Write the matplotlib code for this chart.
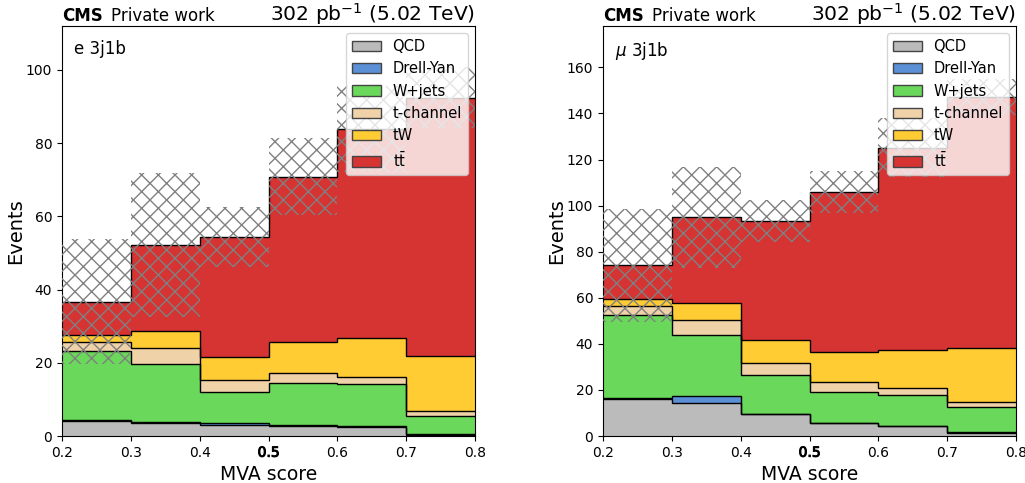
import numpy as np
import matplotlib
matplotlib.use("Agg")
import matplotlib.pyplot as plt
import matplotlib.patheffects as pe
from matplotlib.patches import Patch

edges = [0.2, 0.3, 0.4, 0.5, 0.6, 0.7, 0.8]
labels = ["QCD", "Drell-Yan", "W+jets", "t-channel", "tW", r"t$\bar{\mathrm{t}}$"]
colors = ["#bbbbbb", "#5b8fd6", "#6ad85a", "#f0d2a8", "#ffcc33", "#d63333"]
xticks = [0.2, 0.3, 0.4, 0.5, 0.6, 0.7, 0.8]

# electron channel
e_qcd = [4.2, 3.6, 3.0, 2.7, 2.5, 0.3]
e_dy = [0.2, 0.3, 0.5, 0.4, 0.3, 0.3]
e_wjets = [18.8, 15.9, 8.4, 11.5, 11.3, 4.9]
e_tchan = [2.4, 4.1, 3.4, 2.7, 2.1, 1.4]
e_tw = [2.0, 4.85, 6.4, 8.5, 10.6, 15.0]
e_ttbar = [9.1, 23.35, 32.7, 45.0, 57.0, 70.5]
e_unc = [17.0, 19.6, 8.2, 10.5, 11.7, 8.4]

# muon channel
m_qcd = [16.1, 14.5, 9.5, 5.5, 4.2, 1.4]
m_dy = [0.2, 2.9, 0.2, 0.2, 0.2, 0.4]
m_wjets = [36.2, 26.6, 16.6, 13.4, 13.2, 10.6]
m_tchan = [3.9, 6.3, 5.2, 4.3, 3.2, 2.4]
m_tw = [2.9, 7.6, 10.0, 13.1, 16.4, 23.2]
m_ttbar = [14.8, 37.1, 51.7, 69.4, 87.9, 109.0]
m_unc = [24.4, 21.9, 9.2, 9.3, 12.8, 7.8]

channels = [
    ("e 3j1b", [e_qcd, e_dy, e_wjets, e_tchan, e_tw, e_ttbar], e_unc, 112),
    (r"$\mu$ 3j1b", [m_qcd, m_dy, m_wjets, m_tchan, m_tw, m_ttbar], m_unc, 178),
]

fig = plt.figure(figsize=(10.25, 4.83), dpi=100)
axes = [fig.add_axes([0.0605, 0.0973, 0.403, 0.849]),
        fig.add_axes([0.5883, 0.0973, 0.403, 0.849])]

for ax, (chan, comps, unc, ytop) in zip(axes, channels):
    base = np.zeros(len(edges) - 1)
    for vals, col, lab in zip(comps, colors, labels):
        vals = np.asarray(vals, dtype=float)
        ax.stairs(base + vals, edges, baseline=base, fill=True,
                  facecolor=col, edgecolor="none", zorder=2)
        ax.stairs(base + vals, edges, baseline=None, color="black",
                  lw=1.0, zorder=3)
        base = base + vals
    unc = np.asarray(unc, dtype=float)
    ax.stairs(base + unc, edges, baseline=base - unc, fill=True,
              facecolor="none", edgecolor="gray", hatch="xx", lw=0, zorder=4)
    ax.set_xlim(0.2, 0.8)
    ax.set_ylim(0, ytop)
    ax.set_xticks(xticks)
    ax.set_xticklabels([f"{t:.1f}" for t in xticks])
    for t in ax.get_xticklabels():
        if t.get_text() == "0.5":
            t.set_path_effects([pe.withStroke(linewidth=0.7, foreground="black")])
    ax.tick_params(labelsize=10)
    ax.set_xlabel("MVA score", fontsize=13.5)
    ax.set_ylabel("Events", fontsize=14)
    ax.yaxis.set_label_coords(-0.09, 0.5)
    ax.text(0.03, 0.965, chan, transform=ax.transAxes, fontsize=12,
            va="top", ha="left")
    ax.text(0.0, 1.012, "CMS", transform=ax.transAxes, fontsize=12,
            fontweight="bold", va="baseline", ha="left")
    ax.text(0.118, 1.012, "Private work", transform=ax.transAxes, fontsize=12,
            va="baseline", ha="left")
    ax.text(1.0, 1.013, r"302 pb$^{-1}$ (5.02 TeV)", transform=ax.transAxes,
            fontsize=14.6, va="baseline", ha="right")
    handles = [Patch(facecolor=c, edgecolor="#444444", lw=1.0) for c in colors]
    leg = ax.legend(handles, labels, loc="upper right", fontsize=10.5,
                    framealpha=0.8, borderaxespad=0.5)
    leg.set_zorder(10)

fig.savefig("out.png", dpi=100)
